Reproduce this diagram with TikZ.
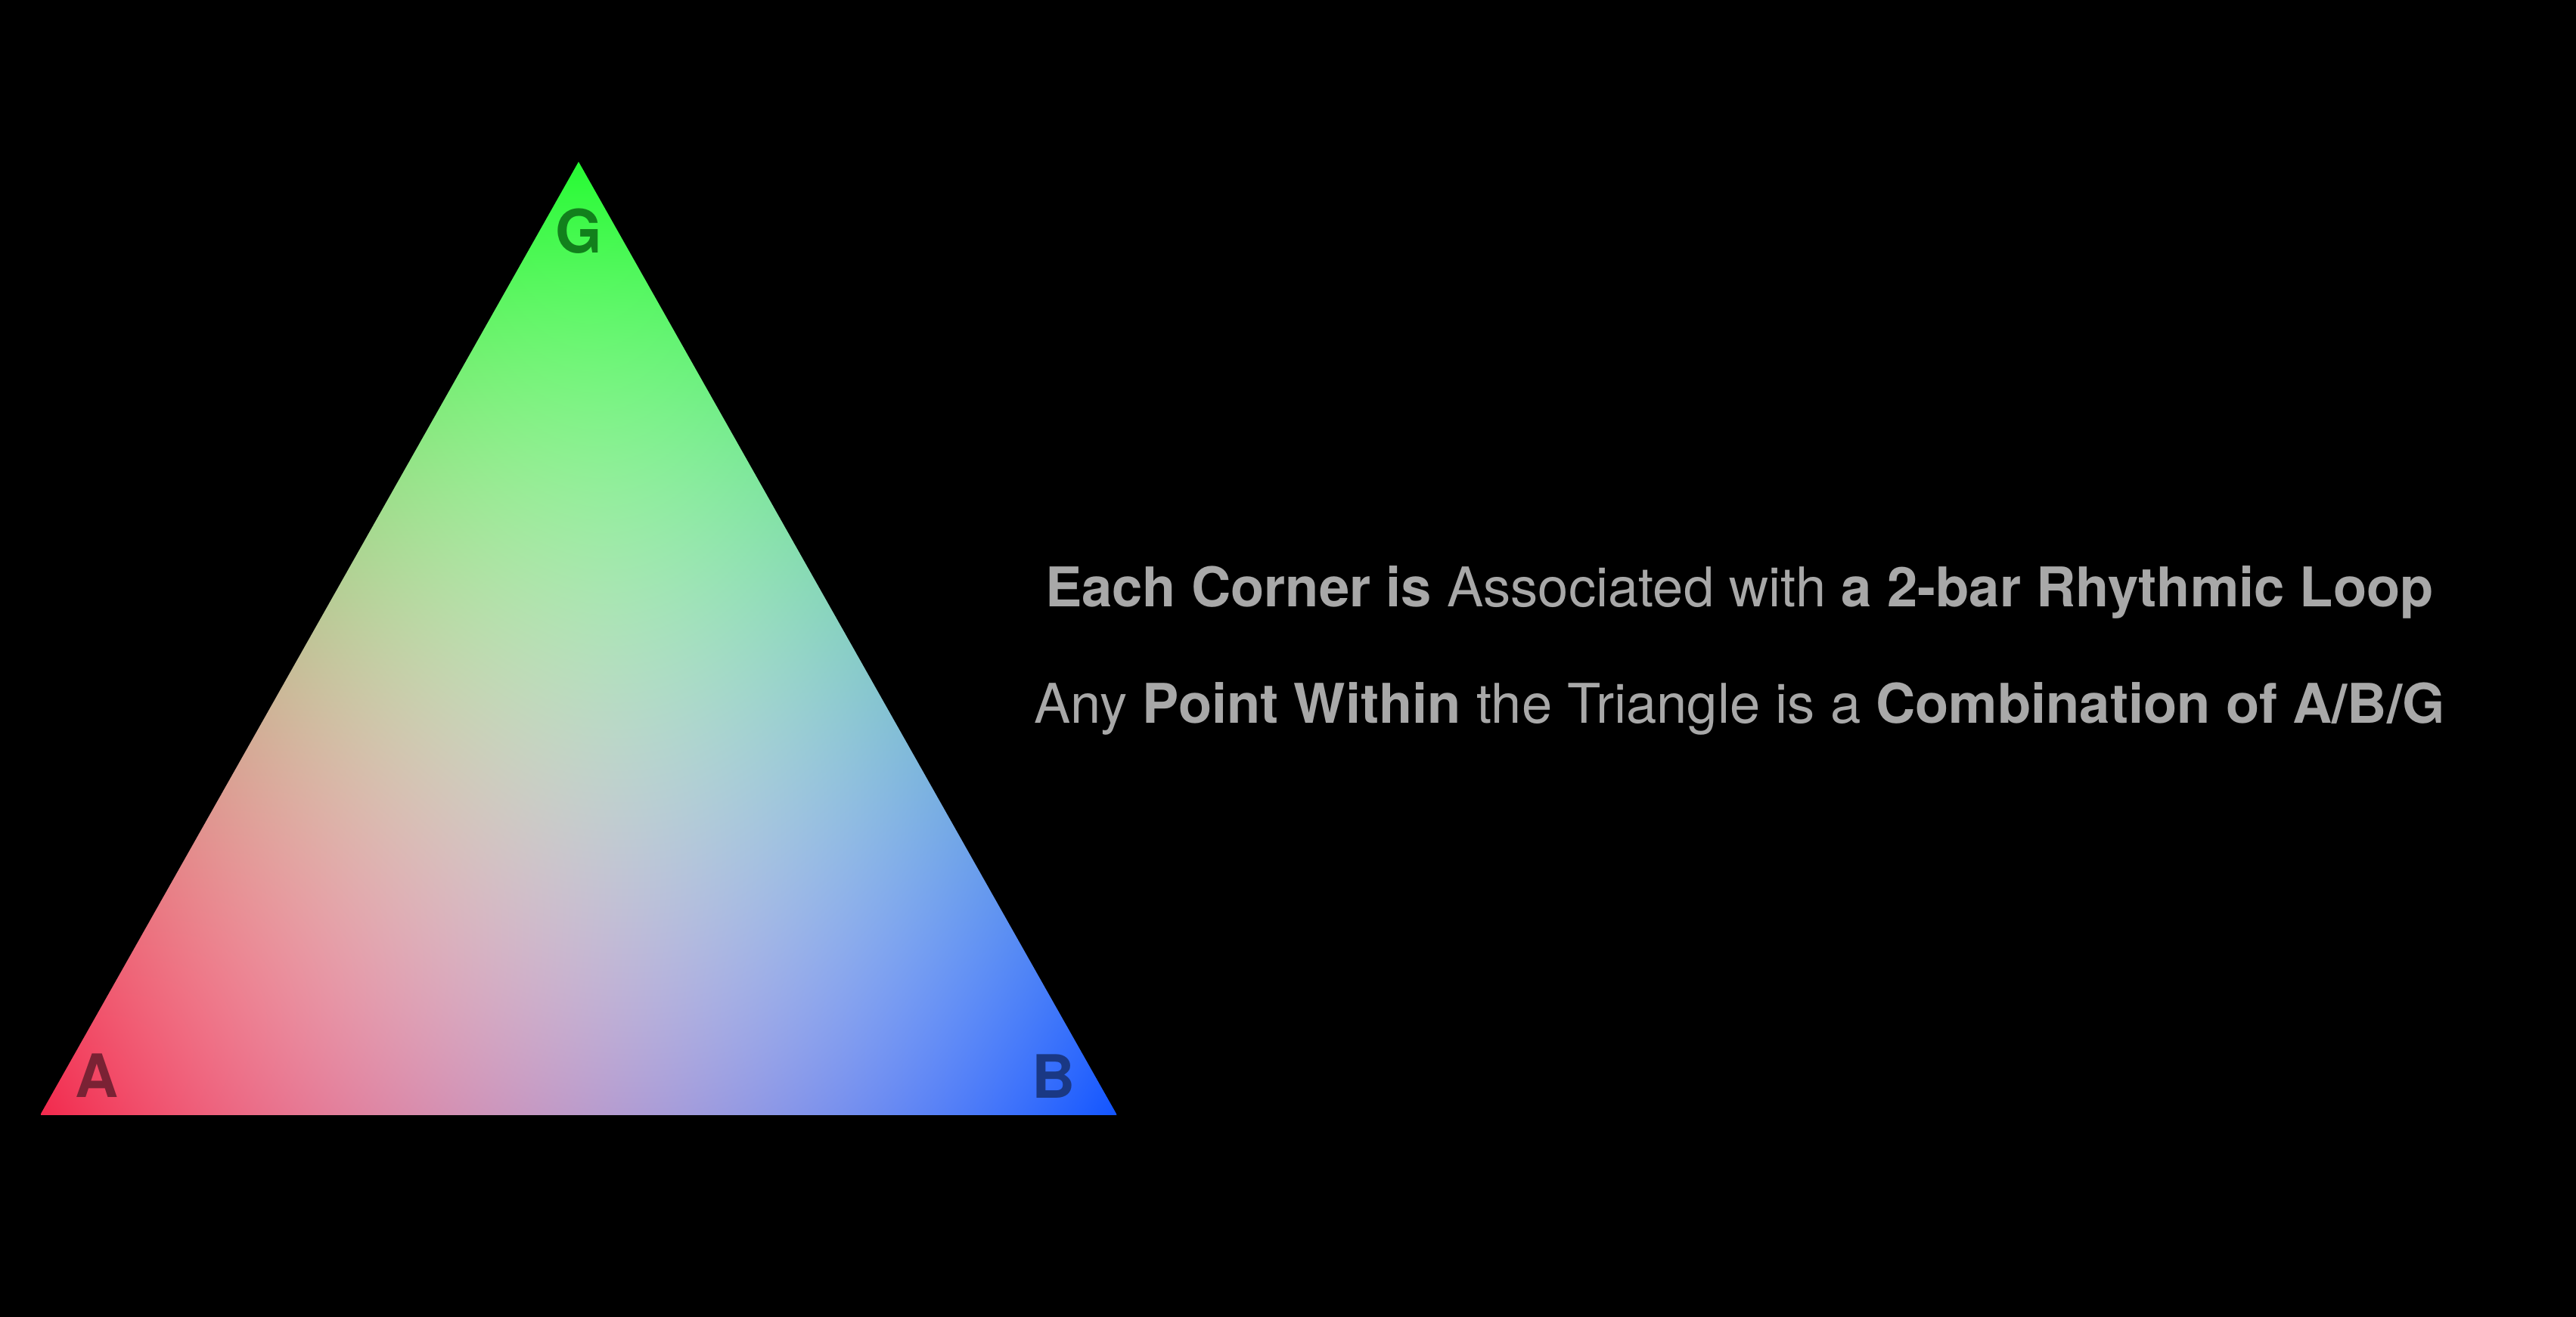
\documentclass[tikz,border=0pt]{standalone}
\usepackage{fontspec}
\setmainfont{TeX Gyre Heros}
\usetikzlibrary{positioning, calc}
\definecolor{captiongray}{RGB}{168,168,168}
\definecolor{cornerA}{RGB}{122,34,52}
\definecolor{cornerB}{RGB}{26,56,132}
\definecolor{cornerG}{RGB}{18,128,28}
\tikzset{
  corner/.style={font=\fontsize{22.5}{27}\selectfont\bfseries, inner sep=0pt},
  caption/.style={font=\fontsize{20.6}{25}\selectfont, text=captiongray, anchor=base, inner sep=0pt}
}
% barycentric mix of the three corner colours (A red, B blue, G green)
\pgfdeclarefunctionalshading{abgmix}{\pgfpointorigin}{\pgfpoint{403.65bp}{357.45bp}}{}{
  357.45 div exch 403.65 div exch
  dup 2 div 3 -1 roll exch sub
  2 copy add 1 exch sub
  dup 0 lt {pop 0} if dup mul 3 1 roll
  dup 0 lt {pop 0} if dup mul 3 1 roll
  dup 0 lt {pop 0} if dup mul 3 1 roll
  dup -0.01 mul 2 index -0.89 mul add 3 index -0.81 mul add 0.96 add
  1 index -0.81 mul 3 index -0.64 mul add 4 index 0.01 mul add 0.97 add
  2 index -0.64 mul 4 index 0.06 mul add 5 index -0.74 mul add 0.94 add
  6 3 roll pop pop pop
}
\begin{document}
\begin{tikzpicture}
  % Canvas
  \fill[black] (0,0) rectangle (34.06,17.42);
  \useasboundingbox (0,0) rectangle (34.06,17.42);

  % Corners of the triangle
  \coordinate (A) at (0.53,2.67);
  \coordinate (B) at (14.77,2.67);
  \coordinate (G) at (7.65,15.28);

  % Colour mix inside the triangle
  \begin{scope}
    \clip (A) -- (B) -- (G) -- cycle;
    \node[inner sep=0pt, outer sep=0pt, anchor=south west] (mix) at (A) {\pgfuseshading{abgmix}};
  \end{scope}

  % Corner labels
  \node[corner, text=cornerA] (labA) at (1.28,3.19) {A};
  \node[corner, text=cornerB] (labB) at (13.93,3.18) {B};
  \node[corner, text=cornerG] (labG) at (7.65,14.36) {G};

  % Captions
  \node[caption] (line1) at (23.0,9.39) {\textbf{Each Corner is} Associated with \textbf{a 2-bar Rhythmic Loop}};
  \node[caption] (line2) at (23.0,7.85) {Any \textbf{Point Within} the Triangle is a \textbf{Combination of A/B/G}};
\end{tikzpicture}
\end{document}
